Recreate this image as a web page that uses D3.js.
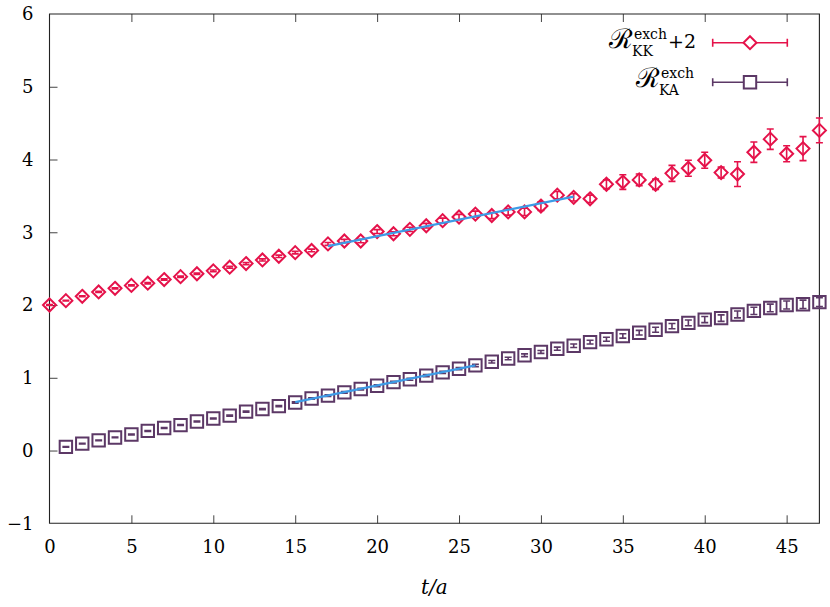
<!DOCTYPE html>
<html><head><meta charset="utf-8">
<script src="https://cdn.jsdelivr.net/npm/d3@7"></script>
<style>body{margin:0;background:#fff}svg{display:block}</style>
</head><body><svg id="c" width="830" height="607"></svg>
<script>
// ---- data ----
const tKK = d3.range(0, 48);
const kkValues = [2.00,2.06,2.12,2.18,2.23,2.27,2.30,2.35,2.39,2.43,2.47,2.52,2.57,2.62,2.67,2.72,2.75,2.84,2.88,2.88,3.01,2.98,3.04,3.09,3.16,3.21,3.25,3.23,3.28,3.28,3.36,3.51,3.48,3.46,3.66,3.69,3.72,3.66,3.81,3.88,3.99,3.82,3.80,4.10,4.28,4.08,4.15,4.40];
const kkErrors = [0.005,0.005,0.006,0.007,0.008,0.008,0.009,0.01,0.01,0.011,0.012,0.013,0.014,0.015,0.016,0.017,0.018,0.02,0.022,0.024,0.026,0.028,0.03,0.032,0.034,0.036,0.04,0.042,0.045,0.05,0.06,0.05,0.05,0.05,0.06,0.10,0.08,0.07,0.11,0.11,0.11,0.075,0.17,0.14,0.14,0.11,0.165,0.17];
const tKA = d3.range(1, 48);
const kaValues = [0.05,0.095,0.14,0.18,0.22,0.27,0.31,0.35,0.40,0.44,0.48,0.535,0.57,0.61,0.66,0.715,0.755,0.80,0.845,0.89,0.94,0.98,1.03,1.075,1.125,1.17,1.22,1.265,1.31,1.355,1.40,1.44,1.49,1.53,1.575,1.62,1.66,1.71,1.755,1.80,1.82,1.87,1.92,1.96,2.00,2.01,2.04];
const kaErrors = [0.004,0.004,0.005,0.005,0.005,0.006,0.006,0.006,0.007,0.007,0.008,0.008,0.008,0.009,0.009,0.01,0.01,0.011,0.011,0.012,0.012,0.013,0.014,0.014,0.015,0.016,0.017,0.018,0.019,0.02,0.022,0.024,0.026,0.028,0.03,0.032,0.035,0.037,0.04,0.042,0.045,0.047,0.05,0.052,0.055,0.058,0.06];
const fitKK_t = [17, 32], fitKK_y = [2.81, 3.49];
const fitKA_t = [15, 26], fitKA_y = [0.665, 1.17];
const xTicks = [0,5,10,15,20,25,30,35,40,45];
const yTicks = [-1,0,1,2,3,4,5,6];

// ---- styles ----
const RED = "#e5124a", PURPLE = "#5c3866", BLUE = "#3d9be6";
const svg = d3.select("#c");
const L = 49.5, R = 819.4, T = 14, B = 523.3;
const x = d3.scaleLinear().domain([0, 47]).range([L, R]);
const y = d3.scaleLinear().domain([-1, 6]).range([B, T]);
const FONT = '"DejaVu Serif", serif';

// axes
const gx = svg.append("g").attr("transform", `translate(0,${B})`)
  .call(d3.axisBottom(x).tickValues(xTicks).tickSize(-8).tickPadding(17).tickFormat(d3.format("d")));
const gxt = svg.append("g").attr("transform", `translate(0,${T})`)
  .call(d3.axisTop(x).tickValues(xTicks).tickSize(-8).tickFormat(""));
const gy = svg.append("g").attr("transform", `translate(${L},0)`)
  .call(d3.axisLeft(y).tickValues(yTicks).tickSize(-8).tickPadding(16).tickFormat(d3.format("d")));
[gx, gxt, gy].forEach(g => {
  g.attr("font-family", null).attr("font-size", null);
  g.select(".domain").remove();
  g.selectAll(".tick line").attr("stroke", "#444").attr("stroke-width", 1);
  g.selectAll("text").style("font-family", FONT).style("font-size", "18px").attr("fill", "#000");
});
gx.selectAll(".tick").filter(d => d === 0).select("line").remove();
gxt.selectAll(".tick").filter(d => d === 0).select("line").remove();
gy.selectAll(".tick").filter(d => d === -1 || d === 6).select("line").remove();

// frame
svg.append("path").attr("d", `M${L},${T}H${R}V${B}H${L}Z`)
  .attr("fill", "none").attr("stroke", "#222").attr("stroke-width", 1.1);

// x label
svg.append("text").attr("x", (L + R) / 2).attr("y", 594).attr("text-anchor", "middle")
  .style("font-family", FONT).style("font-size", "20px").style("font-style", "italic").text("t/a");

// markers
function errorBars(g, ts, vs, es, color) {
  ts.forEach((t, i) => {
    const cx = x(t), y0 = y(vs[i] - es[i]), y1 = y(vs[i] + es[i]);
    g.append("path").attr("d", `M${cx},${y0}V${y1}M${cx-3.5},${y0}H${cx+3.5}M${cx-3.5},${y1}H${cx+3.5}`)
      .attr("stroke", color).attr("stroke-width", 1.6).attr("fill", "none");
  });
}
const diamond = (cx, cy, r) => `M${cx},${cy-r}L${cx+r},${cy}L${cx},${cy+r}L${cx-r},${cy}Z`;
const square = (cx, cy, r) => `M${cx-r},${cy-r}H${cx+r}V${cy+r}H${cx-r}Z`;

const gKA = svg.append("g");
errorBars(gKA, tKA, kaValues, kaErrors, PURPLE);
gKA.selectAll("path.m").data(tKA).join("path").attr("class", "m")
  .attr("d", (t, i) => square(x(t), y(kaValues[i]), 6.2))
  .attr("fill", "none").attr("stroke", PURPLE).attr("stroke-width", 2);

const gKK = svg.append("g");
errorBars(gKK, tKK, kkValues, kkErrors, RED);
gKK.selectAll("path.m").data(tKK).join("path").attr("class", "m")
  .attr("d", (t, i) => diamond(x(t), y(kkValues[i]), 6.5))
  .attr("fill", "none").attr("stroke", RED).attr("stroke-width", 2);

// fit lines
const line = d3.line().x(d => x(d[0])).y(d => y(d[1]));
svg.append("path").attr("d", line(fitKK_t.map((t, i) => [t, fitKK_y[i]])))
  .attr("stroke", BLUE).attr("stroke-width", 2.2).attr("fill", "none");
svg.append("path").attr("d", line(fitKA_t.map((t, i) => [t, fitKA_y[i]])))
  .attr("stroke", BLUE).attr("stroke-width", 2.2).attr("fill", "none");

// legend
function legendLabel(rightX, baseY, sup, sub, extra) {
  const g = svg.append("g");
  const r = g.append("text").attr("x", 0).attr("y", 0)
    .style("font-family", FONT).style("font-size", "27px").text("ℛ");
  const w0 = r.node().getComputedTextLength() + 1;
  const s1 = g.append("text").attr("x", w0).attr("y", -9).style("font-family", FONT).style("font-size", "14px").text(sup);
  const s2 = g.append("text").attr("x", w0 - 2).attr("y", 8).style("font-family", FONT).style("font-size", "14px").text(sub);
  let w = w0 + Math.max(s1.node().getComputedTextLength(), s2.node().getComputedTextLength() - 2);
  if (extra) {
    const e = g.append("text").attr("x", w + 1).attr("y", 0).style("font-family", FONT).style("font-size", "19px").text(extra);
    w += 1 + e.node().getComputedTextLength();
  }
  g.attr("transform", `translate(${rightX - w},${baseY})`);
}
function legendSample(cy, color, shape) {
  const x0 = 712.7, x1 = 787.3;
  svg.append("path").attr("d", `M${x0},${cy}H${x1}M${x0},${cy-4}V${cy+4}M${x1},${cy-4}V${cy+4}`)
    .attr("stroke", color).attr("stroke-width", 1.6).attr("fill", "none");
  svg.append("path").attr("d", shape(750, cy, shape === diamond ? 6.5 : 6.2))
    .attr("fill", "#fff").attr("stroke", color).attr("stroke-width", 2);
}
legendLabel(696, 48, "exch", "KK", "+2");
legendSample(42.7, RED, diamond);
legendLabel(694, 87, "exch", "KA", null);
legendSample(82.3, PURPLE, square);
</script></body></html>
